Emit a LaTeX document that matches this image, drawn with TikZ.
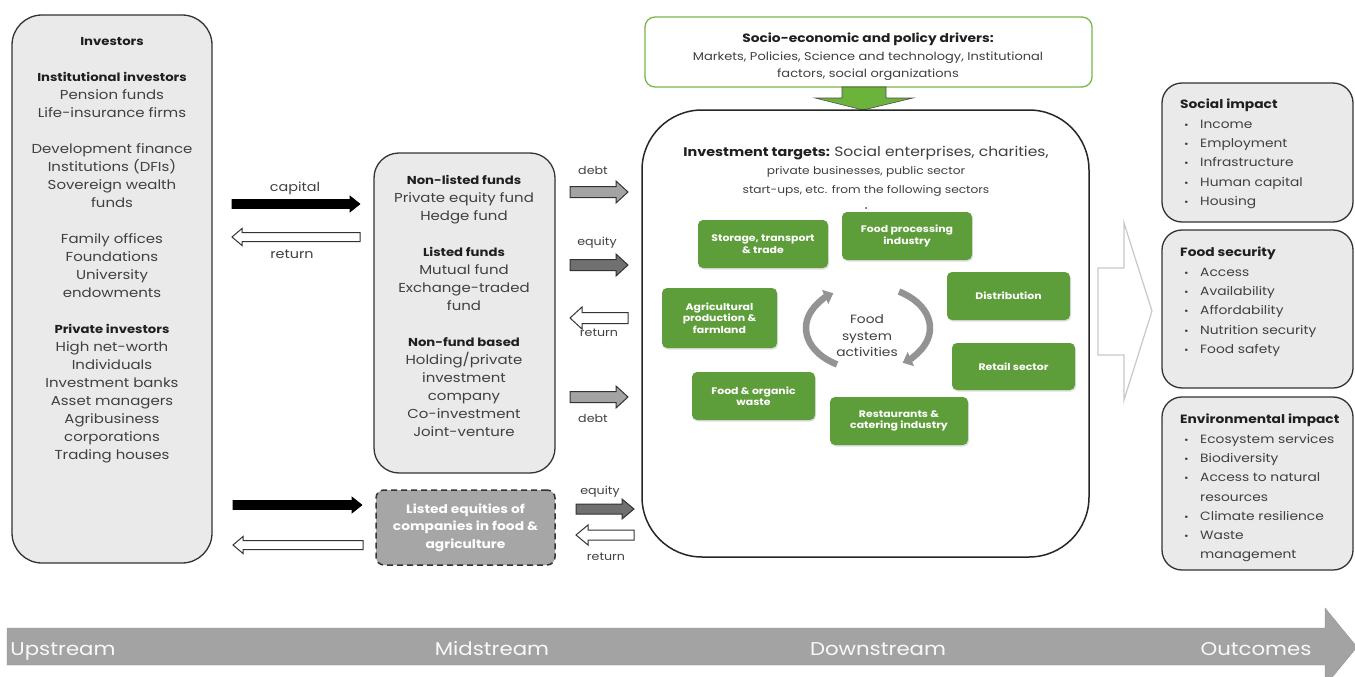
\documentclass[tikz,border=0pt]{standalone}
\usepackage{fontspec}
\setmainfont{Poppins}[FakeStretch=1.15]
\usetikzlibrary{arrows.meta,shadows}
\definecolor{boxgray}{HTML}{EAEAEA}
\definecolor{edge}{HTML}{333333}
\definecolor{txt}{HTML}{404040}
\definecolor{grn}{HTML}{5E9E3A}
\definecolor{grnedge}{HTML}{7AB648}
\definecolor{arrowgrn}{HTML}{6BB33A}
\definecolor{eqgray}{HTML}{A6A6A6}
\definecolor{debtgray}{HTML}{A3A3A3}
\definecolor{equitygray}{HTML}{707070}
\definecolor{bargray}{HTML}{A3A3A3}
\definecolor{hollow}{HTML}{C8C8C8}
\newcommand\hd[1]{{\bfseries\color{black!88}#1}}
\newcommand\hdb[1]{{\fontsize{11.5}{18}\selectfont\bfseries\color{black!88}#1}}
\newcommand\bul{\makebox[20pt][l]{\hspace{4pt}\scalebox{0.8}{\textbullet}}}
% #1 style, #2 x tail, #3 x tip, #4 y, #5 shaft half width, #6 head half width, #7 signed head length
\newcommand\hblock[7]{%
  \pgfmathsetmacro\hbx{#3-(#7)}%
  \draw[#1] (#2,#4-#5) -- (\hbx,#4-#5) -- (\hbx,#4-#6) -- (#3,#4) -- (\hbx,#4+#6) -- (\hbx,#4+#5) -- (#2,#4+#5) -- cycle;}
\begin{document}
\begin{tikzpicture}[x=1pt,y=-1pt,
  bigbox/.style={draw=edge, line width=1.3pt, fill=boxgray, rounded corners=#1, inner sep=0},
  body/.style={font=\fontsize{13}{18}\selectfont, text=txt, align=center, inner sep=0},
  lbl/.style={font=\fontsize{11}{12}\selectfont, text=txt, inner sep=0},
  biglbl/.style={font=\fontsize{12.5}{14}\selectfont, text=txt, inner sep=0},
  greenbox/.style={fill=grn, rounded corners=5, text=white, inner sep=0,
    font=\fontsize{9.5}{11.5}\selectfont\bfseries, align=center,
    drop shadow={opacity=0.25, shadow xshift=1pt, shadow yshift=-1.5pt}},
  solidarrow/.style={fill=black, draw=black, line width=0.6pt},
  hollowarrow/.style={fill=white, draw=edge, line width=1pt},
  debtarrow/.style={fill=debtgray, draw=edge, line width=1pt},
  equityarrow/.style={fill=equitygray, draw=edge, line width=1pt},
  impact/.style={font=\fontsize{12}{19.3}\selectfont, text=txt, align=left, inner sep=0, anchor=north west},
  barlabel/.style={font=\fontsize{18.5}{20}\selectfont, text=white!95!gray, inner sep=0, anchor=base}]
\useasboundingbox (0,0) rectangle (1355,677);
\fill[white] (0,0) rectangle (1355,677);

% bottom stream arrow
\draw[fill=bargray, draw=gray!85] (7,628) -- (1325,628) -- (1325,608) -- (1357,647) -- (1325,686) -- (1325,665) -- (7,665) -- cycle;
\node[barlabel] (up) at (63,655) {Upstream};
\node[barlabel] (mid) at (492,655) {Midstream};
\node[barlabel] (down) at (878,655) {Downstream};
\node[barlabel] (out) at (1256,655) {Outcomes};

% investors
\node[bigbox=30, minimum width=200, minimum height=548] (inv) at (112,289) {};
\node[body, anchor=north] (invtxt) at (112,37) {\hdb{Investors}\\[18pt]
  \hdb{Institutional investors}\\ Pension funds\\ Life-insurance firms\\[18pt]
  Development finance\\ Institutions (DFIs)\\ Sovereign wealth\\ funds\\[18pt]
  Family offices\\ Foundations\\ University\\ endowments\\[18pt]
  \hdb{Private investors}\\ High net-worth\\ Individuals\\ Investment banks\\ Asset managers\\ Agribusiness\\ corporations\\ Trading houses};

% funds
\node[bigbox=25, minimum width=181, minimum height=320] (funds) at (464.5,313) {};
\node[body, anchor=north] (fundstxt) at (464,175) {\hdb{Non-listed funds}\\ Private equity fund\\ Hedge fund\\[18pt]
  \hdb{Listed funds}\\ Mutual fund\\ Exchange-traded\\ fund\\[18pt]
  \hdb{Non-fund based}\\ Holding/private\\ investment\\ company\\ Co-investment\\ Joint-venture};

% listed equities
\node[draw=edge, line width=1.5pt, dash pattern=on 6pt off 4pt, fill=eqgray, rounded corners=8,
  minimum width=179, minimum height=75, inner sep=0, text=white, align=center,
  font=\fontsize{12}{17.5}\selectfont\bfseries] (leq) at (465.5,527.5)
  {Listed equities of\\ companies in food \&\\ agriculture};

% capital / return arrows
\hblock{solidarrow}{232}{360}{204}{4.5}{8}{10}
\hblock{hollowarrow}{360}{232}{237}{4.5}{8.5}{-10}
\hblock{solidarrow}{233}{362}{505}{4.5}{8}{10}
\hblock{hollowarrow}{363}{233}{545}{4.5}{8.5}{-10}
\node[biglbl] (lcap) at (295,188) {capital};
\node[biglbl] (lret1) at (292,254) {return};

% fund -> target arrows
\hblock{debtarrow}{570}{628}{192}{5.5}{11}{12}
\hblock{equityarrow}{570}{628}{265}{5.5}{11}{12}
\hblock{hollowarrow}{628}{570}{318}{5.5}{11}{-12}
\hblock{debtarrow}{570}{628}{397}{5.5}{11}{12}
\hblock{equityarrow}{576}{634}{509}{5}{10}{12}
\hblock{hollowarrow}{634}{576}{535}{5}{10}{-12}
\node[lbl] (ld1) at (593,170) {debt};
\node[lbl] (le1) at (597,243) {equity};
\node[lbl] (lr2) at (599,333) {return};
\node[lbl] (ld2) at (593,418) {debt};
\node[lbl] (le2) at (600,492) {equity};
\node[lbl] (lr3) at (606,557) {return};

% drivers
\node[draw=grnedge, line width=1.3pt, rounded corners=10, minimum width=447, minimum height=70, inner sep=0] (drv) at (868.5,52) {};
\node[align=center, text=txt, inner sep=0, font=\fontsize{11.3}{17.5}\selectfont] (drvtxt) at (868,57)
  {{\fontsize{12}{17.5}\selectfont\bfseries\color{black!88}Socio-economic and policy drivers:}\\
   Markets, Policies, Science and technology, Institutional\\ factors, social organizations};
\draw[fill=arrowgrn, draw=black!70, line width=0.6pt] (842,87) -- (886,87) -- (886,98) -- (913,98) -- (863,110) -- (815,98) -- (842,98) -- cycle;

% targets
\node[draw=black!85, line width=1.5pt, rounded corners=60, minimum width=447, minimum height=447, inner sep=0, fill=none] (tgt) at (865.5,333.5) {};
\node[align=center, text=txt, inner sep=0, font=\fontsize{10.6}{18.5}\selectfont] (tgttxt) at (866,171)
  {{\bfseries\color{black!88}\fontsize{12.5}{18.5}\selectfont Investment targets:} {\fontsize{13.5}{18.5}\selectfont Social enterprises, charities,}\\
   private businesses, public sector\\ start-ups, etc. from the following sectors};
\fill[txt] (866,208) circle (1);

\node[greenbox, minimum width=130, minimum height=48] (stor) at (763,244) {Storage, transport\\ \& trade};
\node[greenbox, minimum width=130, minimum height=48] (proc) at (907,236) {Food processing\\ industry};
\node[greenbox, minimum width=123, minimum height=48] (dist) at (1008.5,296) {Distribution};
\node[greenbox, minimum width=115, minimum height=60] (agri) at (719.5,318) {Agricultural\\ production \&\\ farmland};
\node[greenbox, minimum width=123, minimum height=47] (retail) at (1013.5,366.5) {Retail sector};
\node[greenbox, minimum width=123, minimum height=48] (waste) at (753.5,396) {Food \& organic\\ waste};
\node[greenbox, minimum width=138, minimum height=48] (rest) at (899,421) {Restaurants \&\\ catering industry};

\node[align=center, text=txt, inner sep=0, font=\fontsize{12}{16.5}\selectfont] (fsa) at (867,336) {Food\\ system\\ activities};
\draw[line width=6.5pt, color=gray!85, -{Triangle[width=15pt,length=9pt]}] (837,364.4) arc[start angle=120, end angle=236, x radius=62, y radius=42];
\draw[line width=6.5pt, color=gray!85, -{Triangle[width=15pt,length=9pt]}] (899,291.6) arc[start angle=-60, end angle=56, x radius=62, y radius=42];

% big hollow arrow
\draw[draw=hollow, line width=1.2pt, fill=white] (1098,268) -- (1124,268) -- (1124,223) -- (1152,311) -- (1124,400) -- (1124,355) -- (1098,355) -- cycle;

% impact boxes
\node[bigbox=20, minimum width=191, minimum height=139] (soc) at (1257.5,152.5) {};
\node[bigbox=20, minimum width=191, minimum height=158] (fsec) at (1257.5,309) {};
\node[bigbox=20, minimum width=191, minimum height=173] (env) at (1257.5,483.5) {};
\node[impact] (soctxt) at (1180,99) {\hd{Social impact}\\ \bul Income\\ \bul Employment\\ \bul Infrastructure\\ \bul Human capital\\ \bul Housing};
\node[impact] (fsectxt) at (1180,247) {\hd{Food security}\\ \bul Access\\ \bul Availability\\ \bul Affordability\\ \bul Nutrition security\\ \bul Food safety};
\node[impact] (envtxt) at (1180,414) {\hd{Environmental impact}\\ \bul Ecosystem services\\ \bul Biodiversity\\ \bul Access to natural\\ \makebox[20pt]{}resources\\ \bul Climate resilience\\ \bul Waste\\ \makebox[20pt]{}management};
\end{tikzpicture}
\end{document}
